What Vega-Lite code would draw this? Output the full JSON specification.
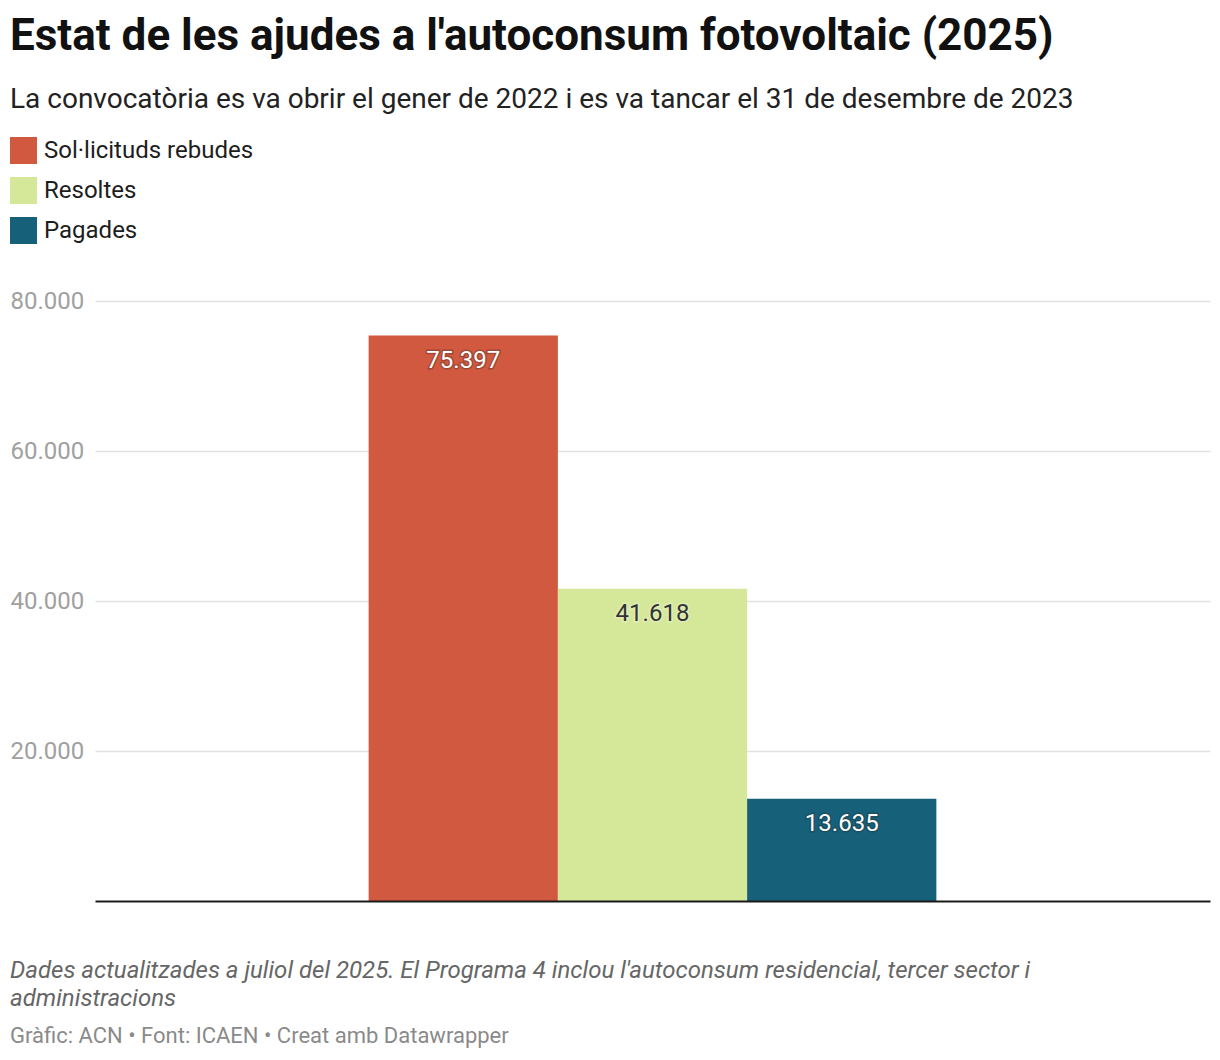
{
  "$schema": "https://vega.github.io/schema/vega-lite/v6.json",
  "background": "white",
  "padding": {"left": 10, "right": 10, "top": 15, "bottom": 10},
  "config": {
    "font": "Roboto",
    "view": {"stroke": null},
    "locale": {"number": {"decimal": ",", "thousands": ".", "grouping": [3], "currency": ["", " €"]}}
  },
  "title": {
    "text": "Estat de les ajudes a l'autoconsum fotovoltaic (2025)",
    "subtitle": "La convocatòria es va obrir el gener de 2022 i es va tancar el 31 de desembre de 2023",
    "anchor": "start",
    "frame": "bounds",
    "font": "Roboto",
    "fontSize": 44,
    "fontWeight": "bold",
    "color": "#111111",
    "subtitleFont": "Roboto",
    "subtitleFontSize": 28,
    "subtitleColor": "#222222",
    "subtitlePadding": 27,
    "offset": 23
  },
  "vconcat": [
    {
      "width": 1115,
      "height": 600,
      "title": {
        "text": ["Dades actualitzades a juliol del 2025. El Programa 4 inclou l'autoconsum residencial, tercer sector i", "administracions"],
        "subtitle": "Gràfic: ACN • Font: ICAEN • Creat amb Datawrapper",
        "orient": "bottom",
        "anchor": "start",
        "frame": "bounds",
        "font": "Roboto",
        "fontSize": 24,
        "fontStyle": "italic",
        "fontWeight": "normal",
        "color": "#666666",
        "lineHeight": 28,
        "subtitleFont": "Roboto",
        "subtitleFontSize": 22,
        "subtitleColor": "#8a8a8a",
        "subtitlePadding": 15,
        "offset": 58
      },
      "data": {
        "values": [
          {"programa": "Programa 4", "serie": "Sol·licituds rebudes", "valor": 75397},
          {"programa": "Programa 4", "serie": "Resoltes", "valor": 41618},
          {"programa": "Programa 4", "serie": "Pagades", "valor": 13635}
        ]
      },
      "encoding": {
        "x": {
          "field": "programa",
          "type": "nominal",
          "scale": {"paddingInner": 0, "paddingOuter": 0.482},
          "axis": {"labels": false, "ticks": false, "title": null, "domain": true, "domainColor": "#1a1a1a", "domainWidth": 2, "grid": false, "zindex": 1}
        },
        "xOffset": {
          "field": "serie",
          "type": "nominal",
          "sort": null,
          "scale": {"paddingInner": 0, "paddingOuter": 0}
        },
        "y": {
          "field": "valor",
          "type": "quantitative",
          "scale": {"domain": [0, 80000], "nice": false},
          "axis": {
            "values": [20000, 40000, 60000, 80000],
            "format": ",d",
            "title": null,
            "ticks": false,
            "domain": false,
            "grid": true,
            "gridColor": "#e2e2e2",
            "gridWidth": 1.5,
            "labelAlign": "left",
            "labelBaseline": "middle",
            "labelPadding": 85,
            "labelFontSize": 24,
            "labelColor": "#a0a0a0"
          }
        }
      },
      "layer": [
        {
          "mark": {"type": "bar"},
          "encoding": {
            "color": {
              "field": "serie",
              "type": "nominal",
              "sort": null,
              "scale": {"domain": ["Sol·licituds rebudes", "Resoltes", "Pagades"], "range": ["#D0593F", "#D5E89A", "#176079"]},
              "legend": {
                "orient": "none",
                "legendX": -85,
                "legendY": -164,
                "title": null,
                "symbolType": "square",
                "symbolSize": 729,
                "symbolStrokeWidth": 0,
                "symbolOpacity": 1,
                "labelFontSize": 24,
                "labelColor": "#1d1d1d",
                "labelOffset": 7,
                "labelLimit": 400,
                "rowPadding": 13,
                "padding": 0
              }
            }
          }
        },
        {
          "mark": {"type": "text", "baseline": "middle", "dy": 25, "fontSize": 24, "fill": "transparent", "strokeWidth": 3, "strokeOpacity": 0.3},
          "encoding": {
            "text": {"field": "valor", "type": "quantitative", "format": ",d"},
            "stroke": {"condition": {"test": "datum.serie === 'Resoltes'", "value": "#ffffff"}, "value": "#222222"}
          }
        },
        {
          "mark": {"type": "text", "baseline": "middle", "dy": 25, "fontSize": 24},
          "encoding": {
            "text": {"field": "valor", "type": "quantitative", "format": ",d"},
            "color": {"condition": {"test": "datum.serie === 'Resoltes'", "value": "#333333"}, "value": "#ffffff"}
          }
        }
      ]
    }
  ]
}
